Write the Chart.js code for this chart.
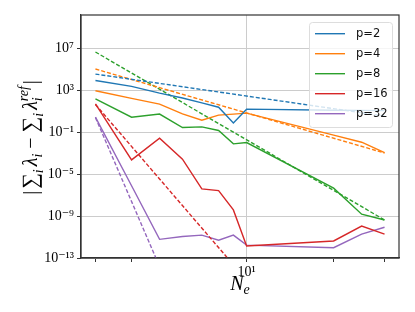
<!DOCTYPE html>
<html><head><meta charset="utf-8">
<script src="https://cdn.jsdelivr.net/npm/chart.js@4/dist/chart.umd.min.js"></script>
<style>html,body{margin:0;padding:0;background:#fff}#wrap{width:415px;height:312px;position:relative}</style>
</head><body><div id="wrap"><canvas id="c" width="415" height="312"></canvas></div>
<script>
// ---- data ----
const Ne = [3, 4, 5, 6, 7, 8, 9, 10, 20, 25, 30];
const errP2  = [8.1e3, 2.2e3, 5.1e2, 1.75e2, 5.9e1, 2.3e1, 7.1e-1, 1.5e1, 1.2e1, 1.15e1, 1.1e1];
const errP4  = [8.5e2, 1.6e2, 4.6e1, 5.4e0, 1.35e0, 4.1e0, 5.1e0, 6.3e0, 5.0e-2, 1.07e-2, 1.1e-3];
const errP8  = [1.4e2, 2.6e0, 5.1e0, 2.7e-1, 3.1e-1, 1.4e-1, 7.4e-3, 1.0e-2, 4.5e-7, 1.5e-9, 4.2e-10];
const errP16 = [4.9e1, 2.2e-4, 2.6e-2, 2.6e-4, 3.8e-7, 2.6e-7, 3.8e-9, 1.4e-12, 4.2e-12, 1.1e-10, 1.9e-11];
const errP32 = [2.6e0, 7.6e-7, 6.0e-12, 1.1e-11, 1.5e-11, 4.9e-12, 1.5e-11, 1.7e-12, 9.5e-13, 1.9e-11, 8.5e-11];
// reference rate lines (dashed), endpoints at N=3 and N=30
const refN = [3, 30];
const refP2  = [3.3e4, 3.3e0];
const refP4  = [1.0e5, 1.0e-3];
const refP8  = [4.2e6, 4.2e-10];
const refP16 = [4.2e1, 4.2e-31];
const refP32 = [2.4e0, 2.4e-64];
const seriesLabels = ['p=2', 'p=4', 'p=8', 'p=16', 'p=32'];
const colors = ['#1f77b4', '#ff7f0e', '#2ca02c', '#d62728', '#9467bd'];
const yTicks = [1e7, 1e3, 1e-1, 1e-5, 1e-9, 1e-13];
const yTickLabels = ['10⁷', '10³', '10⁻¹', '10⁻⁵', '10⁻⁹', '10⁻¹³'];
const xTicks = [3, 4, 10, 20, 30];
const xTickLabels = ['', '', '10¹', '', ''];

const series = [errP2, errP4, errP8, errP16, errP32];
const refs = [refP2, refP4, refP8, refP16, refP32];
const datasets = [];
series.forEach((s, i) => {
  datasets.push({label: seriesLabels[i], data: Ne.map((n, k) => ({x: n, y: s[k]})),
    borderColor: colors[i], backgroundColor: colors[i], borderWidth: 1.4, pointRadius: 0, fill: false, tension: 0});
  datasets.push({label: '', data: refN.map((n, k) => ({x: n, y: refs[i][k]})),
    borderColor: colors[i], backgroundColor: colors[i], borderWidth: 1.4, borderDash: [4, 2], pointRadius: 0, fill: false, tension: 0});
});

function layoutRich(ctx, pieces) {
  let x = 0, px = 0, pw = 0; const out = [];
  for (const p of pieces) {
    ctx.font = p.font; const w = ctx.measureText(p.t).width;
    let sx;
    if (p.stack) { sx = px; pw = Math.max(pw, w); x = px + pw; }
    else { x += (p.pre || 0); sx = x; px = x; pw = w; x += w; }
    out.push(Object.assign({}, p, {x: sx}));
  }
  return {items: out, width: x};
}
function drawRich(ctx, pieces, cx, cy, rot) {
  ctx.save();
  ctx.translate(cx, cy);
  if (rot) ctx.rotate(rot);
  ctx.fillStyle = '#000';
  ctx.textBaseline = 'alphabetic';
  ctx.textAlign = 'left';
  const L = layoutRich(ctx, pieces);
  for (const it of L.items) {
    ctx.font = it.font;
    ctx.fillText(it.t, it.x - L.width / 2, it.dy || 0);
  }
  ctx.restore();
}
const SERIF = '"Liberation Serif", "DejaVu Serif", serif';
const it = s => `italic ${s}px ${SERIF}`;
const rm = s => `${s}px ${SERIF}`;

const decor = {
  id: 'decor',
  afterDraw(chart) {
    const ctx = chart.ctx, a = chart.chartArea;
    // frame (spines)
    ctx.save();
    ctx.strokeStyle = '#333'; ctx.lineWidth = 1.2;
    ctx.strokeRect(a.left, a.top, a.right - a.left, a.bottom - a.top);
    ctx.restore();
    // legend
    ctx.save();
    const bx = 309.5, by = 22.5, bw = 83, bh = 105, r = 3;
    ctx.beginPath();
    ctx.moveTo(bx + r, by); ctx.lineTo(bx + bw - r, by); ctx.quadraticCurveTo(bx + bw, by, bx + bw, by + r);
    ctx.lineTo(bx + bw, by + bh - r); ctx.quadraticCurveTo(bx + bw, by + bh, bx + bw - r, by + bh);
    ctx.lineTo(bx + r, by + bh); ctx.quadraticCurveTo(bx, by + bh, bx, by + bh - r);
    ctx.lineTo(bx, by + r); ctx.quadraticCurveTo(bx, by, bx + r, by); ctx.closePath();
    ctx.fillStyle = 'rgba(255,255,255,0.8)'; ctx.fill();
    ctx.strokeStyle = '#dddddd'; ctx.lineWidth = 1; ctx.stroke();
    chart.data.datasets.filter(d => d.label).forEach((d, i) => {
      const y = 33.7 + 20 * i;
      ctx.beginPath(); ctx.moveTo(315, y); ctx.lineTo(345, y);
      ctx.strokeStyle = d.borderColor; ctx.lineWidth = 1.4; ctx.stroke();
      ctx.fillStyle = '#111'; ctx.font = '11.5px "DejaVu Sans"';
      ctx.textBaseline = 'middle'; ctx.textAlign = 'left';
      ctx.fillText(d.label, 356, y + 0.5);
    });
    ctx.restore();
    // axis titles
    const S = 20;
    drawRich(ctx, [
      {t: '|', font: rm(S)},
      {t: '∑', font: rm(S * 1.1), pre: 2},
      {t: 'i', font: it(S * 0.7), dy: S * 0.3},
      {t: 'λ', font: it(S), pre: 3},
      {t: 'i', font: it(S * 0.7), dy: S * 0.25},
      {t: '−', font: rm(S), pre: 5},
      {t: '∑', font: rm(S * 1.1), pre: 5},
      {t: 'i', font: it(S * 0.7), dy: S * 0.3},
      {t: 'λ', font: it(S), pre: 3},
      {t: 'i', font: it(S * 0.7), dy: S * 0.25},
      {t: 'ref', font: it(S * 0.7), dy: -S * 0.45, stack: true},
      {t: '|', font: rm(S), pre: 2}
    ], 37, 137.5, -Math.PI / 2);
    drawRich(ctx, [
      {t: 'N', font: it(20)},
      {t: 'e', font: it(14), dy: 4}
    ], 240, 290, 0);
  }
};

new Chart(document.getElementById('c'), {
  type: 'line',
  data: {datasets},
  options: {
    responsive: false, animation: false, devicePixelRatio: 1,
    layout: {padding: {left: 0, right: 16, top: 15, bottom: 0}},
    plugins: {legend: {display: false}, tooltip: {enabled: false}},
    elements: {line: {capBezierPoints: false}},
    scales: {
      x: {
        type: 'logarithmic', min: 2.674, max: 33.66,
        afterBuildTicks: s => { s.ticks = xTicks.map(v => ({value: v})); },
        afterFit: s => { s.height = 54; },
        ticks: {autoSkip: false, maxRotation: 0, padding: 2, color: '#000',
          font: {family: SERIF, size: 14},
          callback: v => xTickLabels[xTicks.indexOf(v)] || ''},
        grid: {color: c => (c.tick && c.tick.value === 10) ? '#cccccc' : 'rgba(0,0,0,0)',
          tickColor: '#333', tickLength: 4, lineWidth: 1},
        border: {color: '#333', width: 1.2}
      },
      y: {
        type: 'logarithmic', min: 1e-13, max: 1.4e10,
        afterBuildTicks: s => { s.ticks = yTicks.map(v => ({value: v})); },
        afterFit: s => { s.width = 81; },
        ticks: {autoSkip: false, padding: 3, color: '#000',
          font: {family: SERIF, size: 14},
          callback: v => yTickLabels[yTicks.indexOf(v)] || ''},
        grid: {color: '#cccccc', tickColor: '#333', tickLength: 4, lineWidth: 1},
        border: {color: '#333', width: 1.2}
      }
    }
  },
  plugins: [decor]
});
</script>
</body></html>
